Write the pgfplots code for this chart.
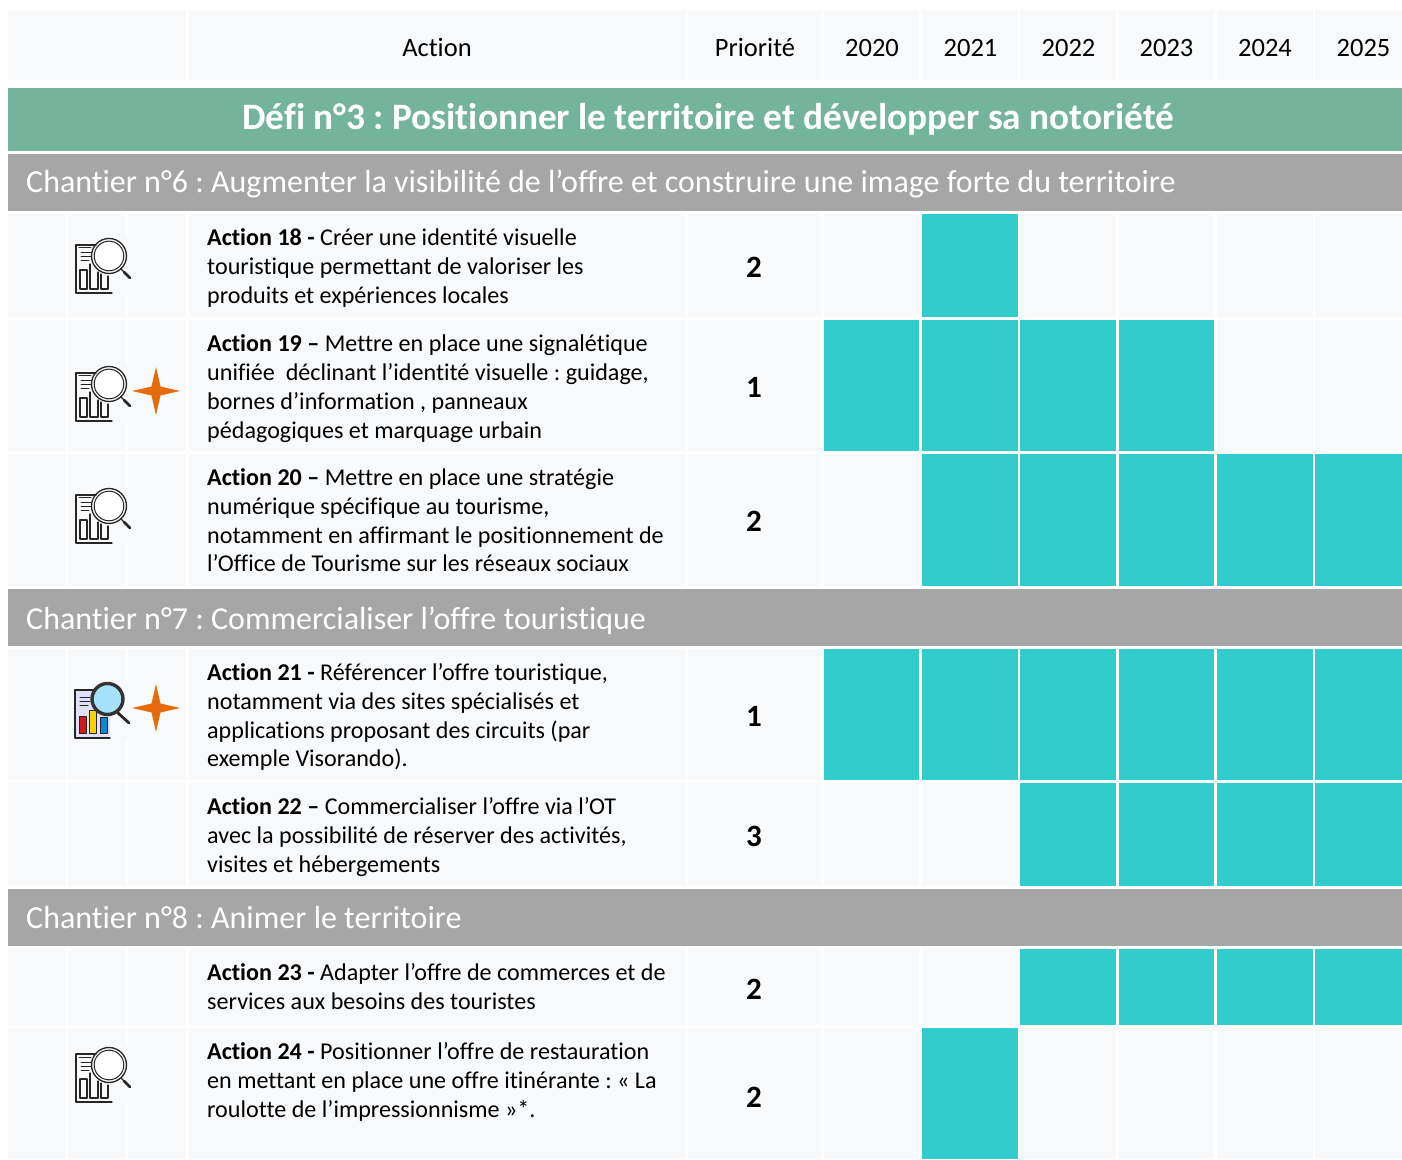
\documentclass[border=0pt]{standalone}
\usepackage{pgfplots}
\pgfplotsset{compat=1.18}
\usepackage{fontspec}
\setmainfont[Ligatures={NoCommon}]{Carlito}
\frenchspacing
\definecolor{cellbg}{HTML}{F8F9FB}
\definecolor{barc}{HTML}{33CCCC}
\definecolor{defi}{HTML}{74B49D}
\definecolor{chant}{HTML}{A6A6A6}
\definecolor{star}{HTML}{E46C0A}
% a filled rectangle in chart coordinates
\newcommand{\R}[5]{\addplot[fill=#5,draw=none,no markers,forget plot] coordinates {(#1,#3) (#2,#3) (#2,#4) (#1,#4)} -- cycle;}
% row of plain cells: y0 y1
\newcommand{\Row}[2]{%
 \R{8}{66}{#1}{#2}{cellbg}\R{68}{126}{#1}{#2}{cellbg}\R{128}{186}{#1}{#2}{cellbg}%
 \R{189}{686}{#1}{#2}{cellbg}\R{688}{821}{#1}{#2}{cellbg}%
 \R{824}{919}{#1}{#2}{cellbg}\R{922}{1018}{#1}{#2}{cellbg}\R{1020}{1116}{#1}{#2}{cellbg}%
 \R{1119}{1214}{#1}{#2}{cellbg}\R{1217}{1313}{#1}{#2}{cellbg}\R{1315}{1402}{#1}{#2}{cellbg}}
% year bars
\newcommand{\Ya}[2]{\R{824}{919}{#1}{#2}{barc}}
\newcommand{\Yb}[2]{\R{922}{1018}{#1}{#2}{barc}}
\newcommand{\Yc}[2]{\R{1020}{1116}{#1}{#2}{barc}}
\newcommand{\Yd}[2]{\R{1119}{1214}{#1}{#2}{barc}}
\newcommand{\Ye}[2]{\R{1217}{1313}{#1}{#2}{barc}}
\newcommand{\Yf}[2]{\R{1315}{1402}{#1}{#2}{barc}}
\newcommand{\fbody}{\fontsize{24.1}{29}\selectfont}
\newcommand{\T}[3]{\node[anchor=base west,inner sep=0pt,font=\fbody] at (axis cs:#1,#2) {#3};}
\newcommand{\Hd}[2]{\node[anchor=base,inner sep=0pt,font=\fontsize{26.5}{30}\selectfont] at (axis cs:#1,56) {#2};}
\newcommand{\Prio}[2]{\node[anchor=base,inner sep=0pt,font=\fontsize{31}{34}\selectfont\bfseries] at (axis cs:754,#1) {#2};}
\newcommand{\Ch}[2]{\node[anchor=base west,inner sep=0pt,text=white,font=\fontsize{32}{34}\selectfont] at (axis cs:26,#1) {#2};}
% icon: #1 left of the document, #2 top of the document
\newcommand{\Icon}[2]{\begin{scope}[shift={(#1pt,{1159pt-#2pt})},x=1pt,y=-1pt,line cap=round,line join=round,draw=black!85]
 \fill[cellbg] (0,-8) rectangle (56,50);
 \draw[line width=1.3pt] (20,0) -- (0,0) -- (0,48) -- (36,48);
 \draw[line width=1pt] (3,3) -- (15,3) (5,8) -- (15,8) (5,12) -- (15,12) (5,16) -- (13,16);
 \draw[line width=1.2pt] (4,44) -- (4,25) -- (11,25) -- (11,44) -- cycle;
 \draw[line width=1.2pt] (14,44) -- (14,19) (22,27) -- (22,44) -- (14,44);
 \draw[line width=1.2pt] (25,44) -- (25,29) (32,31) -- (32,44) -- (25,44);
 \fill[white] (33,11) circle (15);
 \draw[line width=1.3pt] (33,11) circle (17.5);
 \draw[line width=1pt] (33,11) circle (14.8);
 \draw[line width=1.2pt] (45,24) -- (48,27);
 \draw[line width=2.6pt] (48,27) -- (54,33);
\end{scope}}
\newcommand{\IconC}[2]{\begin{scope}[shift={(#1pt,{1159pt-#2pt})},x=1pt,y=-1pt,line cap=round,line join=round,draw=black!85]
 \fill[cellbg] (0,-8) rectangle (56,50);
 \fill[black!10!blue!12!white] (0,0) rectangle (35,48);
 \draw[line width=1.4pt] (20,0) -- (0,0) -- (0,48) -- (35,48);
 \draw[line width=1pt] (5,8) -- (15,8) (5,12) -- (15,12) (5,16) -- (13,16);
 \filldraw[fill=red!80!black!90,line width=1pt] (4,44) rectangle (11,27);
 \filldraw[fill=yellow!70!orange,line width=1pt] (14,44) rectangle (21,21);
 \filldraw[fill=cyan!70!blue,line width=1pt] (25,44) rectangle (32,28);
 \filldraw[fill=cyan!35!white,line width=3.4pt,draw=black!80] (32.5,9) circle (15.5);
 \draw[line width=2.8pt] (43,23) -- (54,33);
\end{scope}}
\newcommand{\Star}[2]{\begin{scope}[shift={(#1pt,{1159pt-#2pt})},x=1pt,y=-1pt]
 \fill[star] (0,-24) -- (4.5,-4.5) -- (24,0) -- (4.5,4.5) -- (0,24) -- (-4.5,4.5) -- (-24,0) -- (-4.5,-4.5) -- cycle;
\end{scope}}
\begin{document}
\begin{tikzpicture}
\useasboundingbox (0,0) rectangle (1402pt,1159pt);
\begin{axis}[at={(0,0)},anchor=south west,scale only axis,width=1402pt,height=1159pt,
  xmin=0,xmax=1402,ymin=0,ymax=1159,y dir=reverse,hide axis,clip=false]
% header
\R{8}{186}{10}{80}{cellbg}\R{189}{686}{10}{80}{cellbg}\R{688}{821}{10}{80}{cellbg}
\R{824}{919}{10}{80}{cellbg}\R{922}{1018}{10}{80}{cellbg}\R{1020}{1116}{10}{80}{cellbg}
\R{1119}{1214}{10}{80}{cellbg}\R{1217}{1313}{10}{80}{cellbg}\R{1315}{1402}{10}{80}{cellbg}
% bands
\R{8}{1402}{88}{151}{defi}
\R{8}{1402}{154}{211}{chant}
\R{8}{1402}{589}{646}{chant}
\R{8}{1402}{889}{946}{chant}
% rows
\Row{214}{317}\Row{320}{451}\Row{454}{586}\Row{649}{780}\Row{783}{886}\Row{949}{1025}\Row{1028}{1159}
% planning
\Yb{214}{317}
\Ya{320}{451}\Yb{320}{451}\Yc{320}{451}\Yd{320}{451}
\Yb{454}{586}\Yc{454}{586}\Yd{454}{586}\Ye{454}{586}\Yf{454}{586}
\Ya{649}{780}\Yb{649}{780}\Yc{649}{780}\Yd{649}{780}\Ye{649}{780}\Yf{649}{780}
\Yc{783}{886}\Yd{783}{886}\Ye{783}{886}\Yf{783}{886}
\Yc{949}{1025}\Yd{949}{1025}\Ye{949}{1025}\Yf{949}{1025}
\Yb{1028}{1159}
% header text
\Hd{437}{Action}\Hd{755}{Priorité}
\Hd{872}{2020}\Hd{970.5}{2021}\Hd{1068.5}{2022}\Hd{1166.5}{2023}\Hd{1265}{2024}\Hd{1363.5}{2025}
\node[anchor=base,inner sep=0pt,text=white,font=\fontsize{37.3}{40}\selectfont\bfseries] at (axis cs:708.5,129.5) {Défi n°3 : Positionner le territoire et développer sa notoriété};
\Ch{192}{Chantier n°6 : Augmenter la visibilité de l’offre et construire une image forte du territoire}
\Ch{629}{Chantier n°7 : Commercialiser l’offre touristique}
\Ch{928}{Chantier n°8 : Animer le territoire}
% actions
\T{207}{245}{\textbf{Action 18 -} Créer une identité visuelle}
\T{207}{274}{touristique permettant de valoriser les}
\T{207}{303}{produits et expériences locales}
\T{207}{351}{\textbf{Action 19 –} Mettre en place une signalétique}
\T{207}{380}{unifiée\ \ déclinant l’identité visuelle : guidage,}
\T{207}{409}{bornes d’information , panneaux}
\T{207}{438}{pédagogiques et marquage urbain}
\T{207}{485}{\textbf{Action 20 –} Mettre en place une stratégie}
\T{207}{514}{numérique spécifique au tourisme,}
\T{207}{543}{notamment en affirmant le positionnement de}
\T{207}{571}{l’Office de Tourisme sur les réseaux sociaux}
\T{207}{680}{\textbf{Action 21 -} Référencer l’offre touristique,}
\T{207}{709}{notamment via des sites spécialisés et}
\T{207}{738}{applications proposant des circuits (par}
\T{207}{766}{exemple Visorando).}
\T{207}{814}{\textbf{Action 22 –} Commercialiser l’offre via l’OT}
\T{207}{843}{avec la possibilité de réserver des activités,}
\T{207}{872}{visites et hébergements}
\T{207}{980}{\textbf{Action 23 -} Adapter l’offre de commerces et de}
\T{207}{1009}{services aux besoins des touristes}
\T{207}{1059}{\textbf{Action 24 -} Positionner l’offre de restauration}
\T{207}{1088}{en mettant en place une offre itinérante : « La}
\T{207}{1117}{roulotte de l’impressionnisme »*.}
% priorities
\Prio{277}{2}\Prio{397}{1}\Prio{531}{2}\Prio{726}{1}\Prio{846}{3}\Prio{999}{2}\Prio{1107}{2}
\end{axis}
\Icon{76}{245}\Icon{76}{373}\Icon{76}{495}\Icon{76}{1054}
\IconC{75}{690}
\Star{156}{391}\Star{156}{708}
\end{tikzpicture}
\end{document}
